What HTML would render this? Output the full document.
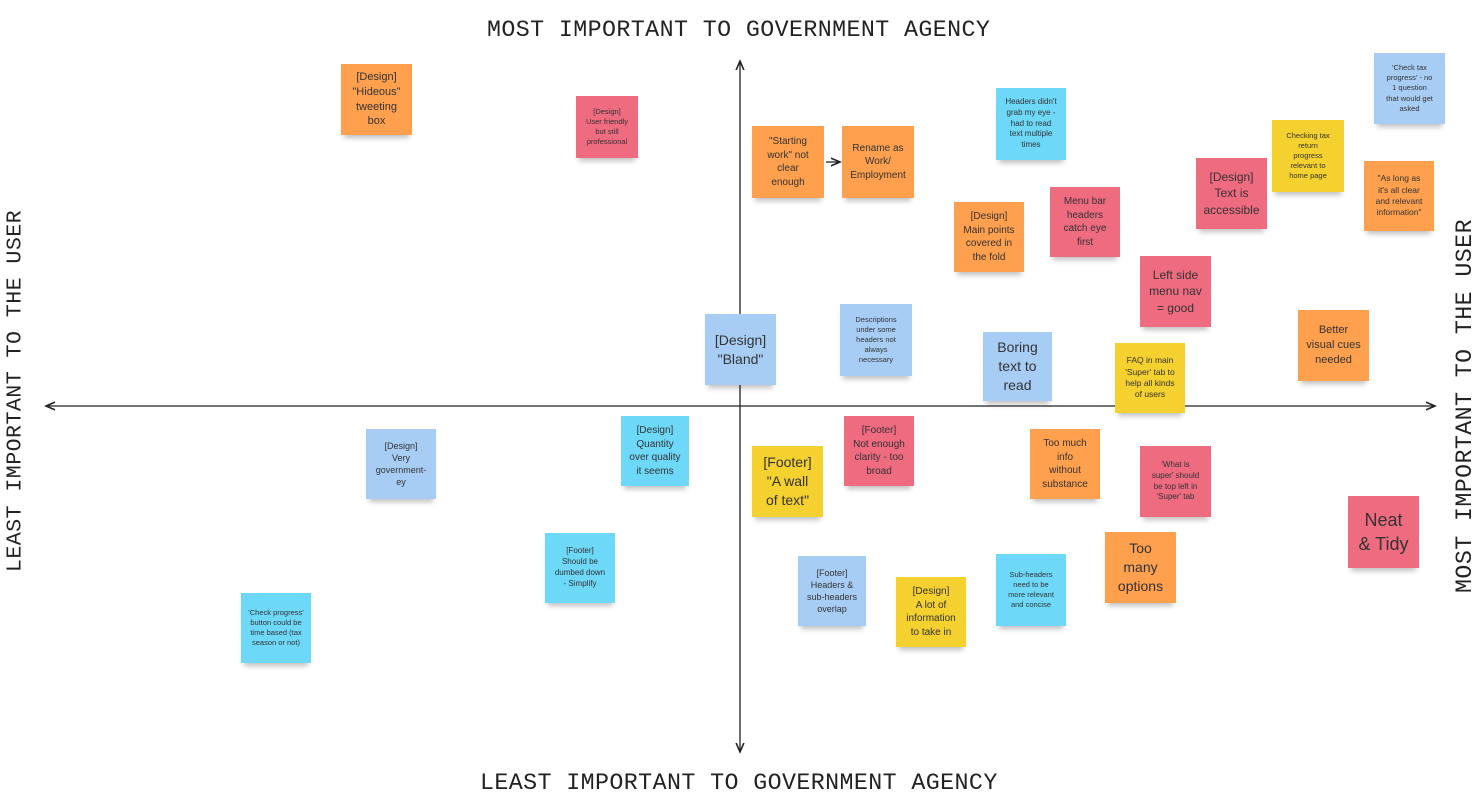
<!DOCTYPE html>
<html><head><meta charset="utf-8"><style>
body{margin:0;width:1476px;height:801px;background:#fff;position:relative;overflow:hidden;font-family:"Liberation Sans",sans-serif}
.n{position:absolute;display:flex;align-items:center;justify-content:center;text-align:center;color:#333;line-height:1.35;box-shadow:0 6px 5px -3px rgba(0,0,0,.25);box-sizing:border-box;padding:2px}
.o{background:#ffa04f}.p{background:#ef6b80}.b{background:#a8cdf5}.c{background:#6dd8f7}.y{background:#f4d12e}
.lab{position:absolute;font-family:"Liberation Mono",monospace;color:#222;white-space:nowrap;letter-spacing:0.4px}
</style></head><body>
<svg width="1476" height="801" style="position:absolute;left:0;top:0">
<defs><marker id="a" markerWidth="8" markerHeight="8" refX="7" refY="4" orient="auto"><path d="M0,1 L7,4 L0,7" fill="none" stroke="#222" stroke-width="1.2"/></marker></defs>
<line x1="740" y1="406" x2="46" y2="406" stroke="#222" stroke-width="1.3" marker-end="url(#a)"/>
<line x1="740" y1="406" x2="1435" y2="406" stroke="#222" stroke-width="1.3" marker-end="url(#a)"/>
<line x1="740" y1="406" x2="740" y2="61" stroke="#222" stroke-width="1.3" marker-end="url(#a)"/>
<line x1="740" y1="406" x2="740" y2="752" stroke="#222" stroke-width="1.3" marker-end="url(#a)"/>
<line x1="826" y1="162" x2="840" y2="162" stroke="#222" stroke-width="1.3" marker-end="url(#a)"/>
</svg>
<div class="lab" style="left:487px;top:17px;font-size:23.3px">MOST IMPORTANT TO GOVERNMENT AGENCY</div>
<div class="lab" style="left:480px;top:770px;font-size:23.3px">LEAST IMPORTANT TO GOVERNMENT AGENCY</div>
<div class="lab" style="left:15px;top:391px;font-size:21.7px;transform:translate(-50%,-50%) rotate(-90deg);position:absolute;">LEAST IMPORTANT TO THE USER</div>
<div class="lab" style="left:1465px;top:406px;font-size:23.3px;transform:translate(-50%,-50%) rotate(-90deg);position:absolute;">MOST IMPORTANT TO THE USER</div>

<div class="n o" style="left:341px;top:64px;width:71px;height:71px;font-size:11px">[Design]<br>"Hideous"<br>tweeting<br>box</div>
<div class="n p" style="left:576px;top:96px;width:62px;height:62px;font-size:7.5px">[Design]<br>User friendly<br>but still<br>professional</div>
<div class="n o" style="left:752px;top:126px;width:72px;height:72px;font-size:10px">"Starting<br>work" not<br>clear<br>enough</div>
<div class="n o" style="left:842px;top:126px;width:72px;height:72px;font-size:10px">Rename as<br>Work/<br>Employment</div>
<div class="n c" style="left:996px;top:88px;width:70px;height:72px;font-size:8px">Headers didn't<br>grab my eye -<br>had to read<br>text multiple<br>times</div>
<div class="n b" style="left:1374px;top:53px;width:71px;height:71px;font-size:7.5px">'Check tax<br>progress' - no<br>1 question<br>that would get<br>asked</div>
<div class="n y" style="left:1272px;top:120px;width:72px;height:72px;font-size:7.5px">Checking tax<br>return<br>progress<br>relevant to<br>home page</div>
<div class="n p" style="left:1196px;top:158px;width:71px;height:71px;font-size:12px">[Design]<br>Text is<br>accessible</div>
<div class="n o" style="left:1364px;top:161px;width:70px;height:70px;font-size:8.5px">"As long as<br>it's all clear<br>and relevant<br>information"</div>
<div class="n p" style="left:1050px;top:187px;width:70px;height:70px;font-size:10px">Menu bar<br>headers<br>catch eye<br>first</div>
<div class="n o" style="left:954px;top:202px;width:70px;height:70px;font-size:10px">[Design]<br>Main points<br>covered in<br>the fold</div>
<div class="n p" style="left:1140px;top:256px;width:71px;height:71px;font-size:12px">Left side<br>menu nav<br>= good</div>
<div class="n o" style="left:1298px;top:310px;width:71px;height:71px;font-size:11px">Better<br>visual cues<br>needed</div>
<div class="n b" style="left:705px;top:314px;width:71px;height:71px;font-size:14px">[Design]<br>"Bland"</div>
<div class="n b" style="left:840px;top:304px;width:72px;height:72px;font-size:7.5px">Descriptions<br>under some<br>headers not<br>always<br>necessary</div>
<div class="n b" style="left:983px;top:332px;width:69px;height:69px;font-size:14px">Boring<br>text to<br>read</div>
<div class="n y" style="left:1115px;top:343px;width:70px;height:70px;font-size:8.5px">FAQ in main<br>'Super' tab to<br>help all kinds<br>of users</div>
<div class="n c" style="left:621px;top:416px;width:68px;height:70px;font-size:10px">[Design]<br>Quantity<br>over quality<br>it seems</div>
<div class="n b" style="left:366px;top:429px;width:70px;height:70px;font-size:9px">[Design]<br>Very<br>government-<br>ey</div>
<div class="n p" style="left:844px;top:416px;width:70px;height:70px;font-size:10px">[Footer]<br>Not enough<br>clarity - too<br>broad</div>
<div class="n y" style="left:752px;top:446px;width:71px;height:71px;font-size:14px">[Footer]<br>"A wall<br>of text"</div>
<div class="n o" style="left:1030px;top:429px;width:70px;height:70px;font-size:10px">Too much<br>info<br>without<br>substance</div>
<div class="n p" style="left:1140px;top:446px;width:71px;height:71px;font-size:8px">'What is<br>super' should<br>be top left in<br>'Super' tab</div>
<div class="n p" style="left:1348px;top:496px;width:71px;height:72px;font-size:18px">Neat<br>&amp; Tidy</div>
<div class="n c" style="left:545px;top:533px;width:70px;height:70px;font-size:8px">[Footer]<br>Should be<br>dumbed down<br>- Simplify</div>
<div class="n c" style="left:241px;top:593px;width:70px;height:70px;font-size:7.5px">'Check progress'<br>button could be<br>time based (tax<br>season or not)</div>
<div class="n b" style="left:798px;top:556px;width:68px;height:70px;font-size:9px">[Footer]<br>Headers &amp;<br>sub-headers<br>overlap</div>
<div class="n y" style="left:896px;top:577px;width:70px;height:70px;font-size:10px">[Design]<br>A lot of<br>information<br>to take in</div>
<div class="n c" style="left:996px;top:554px;width:70px;height:72px;font-size:7.5px">Sub-headers<br>need to be<br>more relevant<br>and concise</div>
<div class="n o" style="left:1105px;top:532px;width:71px;height:71px;font-size:14px">Too<br>many<br>options</div>
</body></html>
